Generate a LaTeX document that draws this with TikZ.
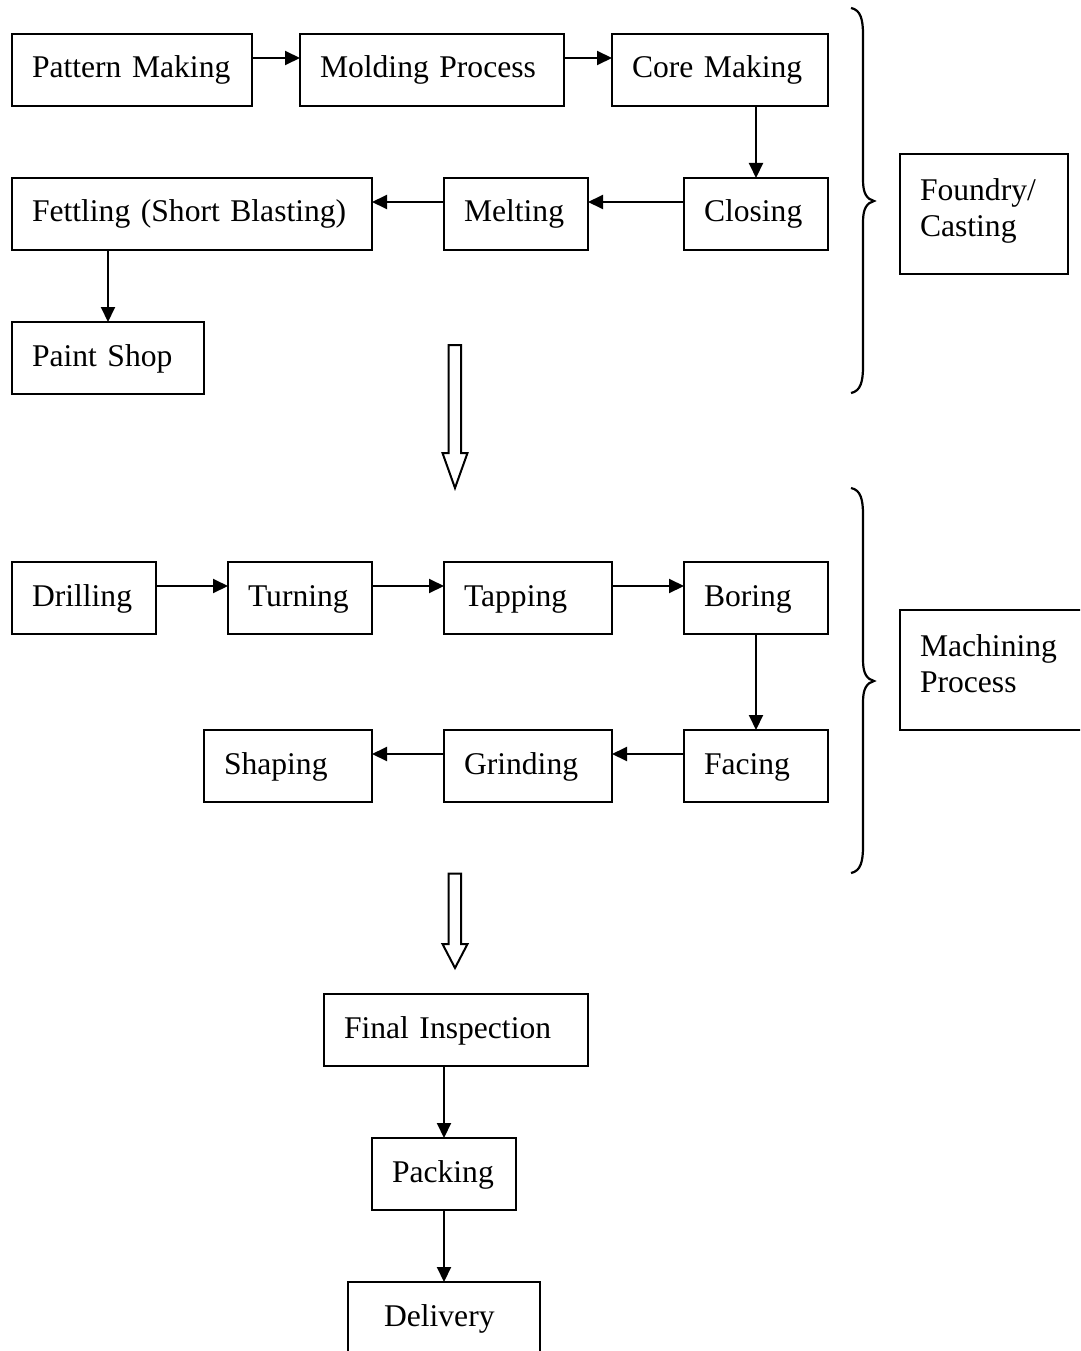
\documentclass[tikz,border=0pt]{standalone}
\usepackage{fontspec}
\setmainfont{Liberation Serif}
\usetikzlibrary{arrows.meta}
\tikzset{
  box/.style={draw, line width=2.6pt, anchor=north west, outer sep=0pt, inner ysep=0pt, inner xsep=20pt,
    align=left, minimum height=72pt, text height=22pt, text depth=6pt,
    font=\fontsize{31.6}{36}\selectfont},
  twoline/.style={minimum height=120pt, text height=22pt, text depth=49pt},
  arr/.style={line width=2pt, -{Triangle[length=15pt,width=14pt]}},
  brace/.style={line width=2.2pt},
  hollow/.style={line width=2pt, line join=miter}
}
\begin{document}
\begin{tikzpicture}[x=1pt,y=-1pt]
\useasboundingbox (0,0) rectangle (1080,1351);
\clip (0,0) rectangle (1080,1351);
% Foundry
\node[box, text width=200pt] (pm) at (12,34) {Pattern Making};
\node[box, text width=224pt] (mp) at (300,34) {Molding Process};
\node[box, text width=176pt] (cm) at (612,34) {Core Making};
\node[box, text width=320pt] (fe) at (12,178) {Fettling (Short Blasting)};
\node[box, text width=104pt] (me) at (444,178) {Melting};
\node[box, text width=104pt] (cl) at (684,178) {Closing};
\node[box, text width=152pt] (ps) at (12,322) {Paint Shop};
\node[box, twoline, text width=128pt] (fc) at (900,154) {Foundry/\\Casting};
% Machining
\node[box, text width=104pt] (dr) at (12,562) {Drilling};
\node[box, text width=104pt] (tu) at (228,562) {Turning};
\node[box, text width=128pt] (ta) at (444,562) {Tapping};
\node[box, text width=104pt] (bo) at (684,562) {Boring};
\node[box, text width=128pt] (sh) at (204,730) {Shaping};
\node[box, text width=128pt] (gr) at (444,730) {Grinding};
\node[box, text width=104pt] (fa) at (684,730) {Facing};
\node[box, twoline, text width=160pt] (mc) at (900,610) {Machining\\Process};
% Final
\node[box, text width=224pt] (fi) at (324,994) {Final Inspection};
\node[box, text width=104pt] (pk) at (372,1138) {Packing};
\node[box, inner xsep=36pt, text width=120pt] (de) at (348,1282) {Delivery};
% connectors row 1/2
\draw[arr] ([yshift=-24pt]pm.north east) -- ([yshift=-24pt]mp.north west);
\draw[arr] ([yshift=-24pt]mp.north east) -- ([yshift=-24pt]cm.north west);
\draw[arr] (cm.south -| cl.north) -- (cl.north);
\draw[arr] ([yshift=-24pt]cl.north west) -- ([yshift=-24pt]me.north east);
\draw[arr] ([yshift=-24pt]me.north west) -- ([yshift=-24pt]fe.north east);
\draw[arr] (fe.south -| ps.north) -- (ps.north);
% row 3/4
\draw[arr] ([yshift=-24pt]dr.north east) -- ([yshift=-24pt]tu.north west);
\draw[arr] ([yshift=-24pt]tu.north east) -- ([yshift=-24pt]ta.north west);
\draw[arr] ([yshift=-24pt]ta.north east) -- ([yshift=-24pt]bo.north west);
\draw[arr] (bo.south) -- (fa.north);
\draw[arr] ([yshift=-24pt]fa.north west) -- ([yshift=-24pt]gr.north east);
\draw[arr] ([yshift=-24pt]gr.north west) -- ([yshift=-24pt]sh.north east);
% final
\draw[arr] (fi.south -| pk.north) -- (pk.north);
\draw[arr] (pk.south) -- (de.north);
% braces
\draw[brace] (851,8) .. controls (861,10) and (863,20) .. (863,35) -- (863,180)
  .. controls (863,194) and (867,199) .. (874,201)
  .. controls (867,203) and (863,208) .. (863,222) -- (863,366)
  .. controls (863,381) and (861,391) .. (851,393);
\draw[brace] (851,488) .. controls (861,490) and (863,500) .. (863,515) -- (863,660)
  .. controls (863,674) and (867,679) .. (874,681)
  .. controls (867,683) and (863,688) .. (863,702) -- (863,846)
  .. controls (863,861) and (861,871) .. (851,873);
% hollow arrows
\draw[hollow] (448.5,345) -- (461,345) -- (461,453) -- (467.5,453) -- (455,488)
  -- (442.5,453) -- (448.5,453) -- cycle;
\draw[hollow] (448.5,873.5) -- (461,873.5) -- (461,944) -- (467.5,944) -- (455,968)
  -- (442.5,944) -- (448.5,944) -- cycle;
\end{tikzpicture}
\end{document}
